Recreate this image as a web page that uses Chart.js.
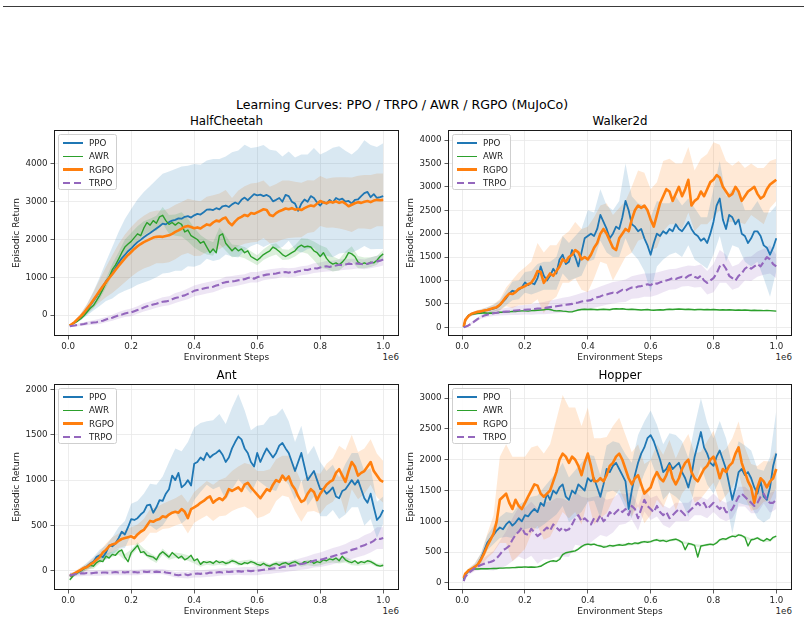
<!DOCTYPE html>
<html><head><meta charset="utf-8">
<script src="https://cdn.jsdelivr.net/npm/chart.js@4.4.1/dist/chart.umd.min.js"></script>
<style>
html,body{margin:0;padding:0;background:#fff}
body{width:804px;height:624px;overflow:hidden;position:relative;font-family:"DejaVu Sans",sans-serif;color:#000}
.rule{position:absolute;left:3px;top:6px;width:801px;height:1px;background:#3a3a3a}
.sup{position:absolute;left:0;width:804px;text-align:center;font-size:12.6px;line-height:16px;top:96.5px;white-space:nowrap}
.ttl{position:absolute;text-align:center;font-size:11.8px;line-height:14px;white-space:nowrap}
.off{position:absolute;text-align:right;font-size:8.7px;line-height:10px;color:#262626}
canvas{position:absolute}
.leg{position:absolute;box-sizing:border-box;border:0.8px solid #cfcfcf;border-radius:2.5px;background:rgba(255,255,255,0.85)}
.row{position:absolute;left:0;height:12px;width:100%}
.hd{position:absolute;left:3.5px;width:20px}
.lt{position:absolute;left:30px;top:0;font-size:8.7px;line-height:12px;color:#222;white-space:nowrap}
</style></head>
<body>
<div class="rule"></div>
<div class="sup">Learning Curves: PPO / TRPO / AWR / RGPO (MuJoCo)</div>
<script>
// ---------------- DATA ----------------
const TITLE = 'Learning Curves: PPO / TRPO / AWR / RGPO (MuJoCo)';
const ENVS = ['HalfCheetah', 'Walker2d', 'Ant', 'Hopper'];
const SERIES = ['PPO', 'AWR', 'RGPO', 'TRPO'];
const X_LABEL = 'Environment Steps';
const Y_LABEL = 'Episodic Return';
const X_OFFSET_LABEL = '1e6';
const X_TICKS = [0, 0.2, 0.4, 0.6, 0.8, 1.0];
const Y_TICKS_HALFCHEETAH = [0, 1000, 2000, 3000, 4000];
const Y_TICKS_WALKER = [0, 500, 1000, 1500, 2000, 2500, 3000, 3500, 4000];
const Y_TICKS_ANT = [0, 500, 1000, 1500, 2000];
const Y_TICKS_HOPPER = [0, 500, 1000, 1500, 2000, 2500, 3000];
// environment steps (x 1e6): first eval at 0.005, then every 0.01
const STEPS = [0.005].concat(Array.from({length: 100}, (_, i) => (i + 1) / 100));

// HalfCheetah means (101 pts) and std (51 pts, every other step)
const HC_PPO = [-270,
 -250,-200,-130,-50,40,140,250,370,490,620,
 760,890,1000,1120,1240,1380,1500,1590,1690,1760,
 1850,1930,1990,2060,2120,2170,2230,2290,2350,2420,
 2400,2460,2500,2520,2560,2550,2600,2620,2580,2640,
 2680,2660,2720,2790,2800,2780,2830,2800,2880,2900,
 2860,2930,2980,2940,3050,3110,3040,3120,3200,3170,
 3190,3150,3180,3130,3010,3050,3100,3000,3180,3150,
 3000,2950,2760,2950,3060,3000,3150,3100,2980,2900,
 3000,2950,3050,2980,3100,3050,3080,3000,3020,2950,
 3050,3060,3150,3230,3260,3120,3200,3100,3120,3150];
const HC_PPO_STD = [20, 40,80,150,250,380, 520,680,820,950,1050, 1130,1200,1250,1290,1320, 1340,1350,1380,1330,1360, 1320,1300,1350,1330,1300, 1380,1420,1400,1300,1280, 1350,1250,1300,1200,1180, 1220,1300,1250,1320,1350, 1380,1450,1420,1350,1300, 1330,1400,1380,1350,1400];
const HC_AWR = [-270,
 -250,-210,-160,-100,-20,80,180,250,380,520,
 680,850,1000,1200,1320,1480,1650,1800,1880,1950,
 2050,2150,2100,2300,2450,2380,2500,2430,2600,2640,
 2500,2400,2450,2380,2450,2400,2200,2250,2100,2050,
 2000,1900,1950,1800,1650,1750,1650,2100,2150,1900,
 1800,1700,1780,1700,1750,1650,1700,1550,1500,1450,
 1520,1600,1650,1700,1800,1750,1680,1600,1550,1600,
 1650,1700,1800,1850,1800,1820,1800,1700,1650,1550,
 1650,1500,1400,1350,1380,1330,1400,1500,1650,1620,
 1550,1400,1350,1380,1350,1400,1380,1450,1550,1620];
const HC_AWR_STD = [20, 30,40,60,80,100, 120,150,180,200,220, 200,180,170,200,220, 250,280,320,300,260, 220,200,180,220,200, 170,150,150,140,130, 140,160,150,140,130, 150,180,200,250,300, 280,200,150,180,200, 160,140,130,120,100];
const HC_RGPO = [-280,
 -250,-190,-110,-30,60,170,280,400,520,640,
 760,870,980,1080,1190,1300,1400,1500,1590,1670,
 1750,1820,1880,1930,1970,2010,2050,2070,2080,2070,
 2090,2110,2150,2200,2240,2290,2340,2360,2330,2300,
 2320,2290,2350,2400,2380,2450,2500,2480,2550,2580,
 2450,2380,2480,2560,2600,2650,2620,2700,2680,2720,
 2760,2800,2780,2650,2620,2700,2750,2780,2820,2800,
 2830,2790,2810,2780,2830,2870,2900,2880,2950,3020,
 2980,2960,3000,2980,3010,2970,3000,2950,2880,2920,
 2960,2990,2970,3000,3020,2990,3030,3050,3040,3050];
const HC_RGPO_STD = [20, 40,70,120,200,300, 400,500,580,630,660, 680,700,720,700,700, 710,720,700,720,740, 720,730,720,740,730, 720,740,760,780,780, 760,750,770,780,760, 740,720,700,680,660, 650,660,680,700,720, 700,710,720,700,700];
const HC_TRPO = [-300,
 -290,-280,-260,-250,-240,-220,-210,-200,-190,-170,
 -150,-120,-90,-70,-40,-10,10,40,60,70,
 100,130,160,200,230,250,280,300,330,350,
 360,380,420,450,470,500,520,560,600,640,
 660,680,700,720,730,750,780,800,850,870,
 880,890,900,920,930,950,980,1000,960,1000,
 1030,1050,1070,1080,1090,1100,1120,1130,1140,1120,
 1150,1130,1160,1170,1200,1190,1220,1240,1230,1260,
 1280,1290,1270,1300,1310,1330,1320,1340,1360,1350,
 1370,1360,1350,1340,1360,1380,1400,1420,1440,1470];
const HC_TRPO_STD = [20, 30,40,50,60,70, 70,80,90,90,100, 100,110,110,110,120, 120,130,130,140,140, 150,150,150,140,140, 140,140,130,140,140, 130,130,130,120,120, 120,120,120,130,130, 140,140,150,140,140, 130,130,140,150,160];

// Walker2d
const WK_PPO = [0,
 150,250,280,300,310,330,350,370,380,400,
 420,470,550,620,720,780,760,800,850,960,
 900,950,920,1050,1300,1100,1000,1100,1250,1150,
 1450,1550,1350,1400,1650,1500,1300,1600,1900,1950,
 2000,1950,2100,2400,2250,2100,1900,2000,2150,2100,
 2350,2700,2500,2200,2150,2050,2100,1900,1750,1550,
 1800,2000,1950,2050,2000,2100,2050,2200,2100,2050,
 2150,2250,2100,2000,1950,1850,1900,1800,2000,2250,
 2600,2750,2300,2100,2400,2350,2200,2300,2000,1950,
 1800,1900,2050,2050,1950,1750,1700,1550,1700,1900];
const WK_PPO_STD = [0, 30,40,50,60,80, 100,150,200,200,220, 250,300,300,300,350, 400,400,450,500,550, 500,550,500,500,600, 800,600,600,700,800, 700,600,550,600,550, 500,550,500,550,700, 800,700,600,600,550, 600,650,700,900,700];
const WK_AWR = [20,
 150,250,280,290,300,300,310,300,305,300,
 310,320,320,325,330,340,335,345,350,350,
 345,355,360,365,370,375,390,380,360,350,
 355,345,340,330,330,350,370,380,385,380,
 385,380,375,380,385,380,375,390,395,390,
 395,385,380,385,380,375,370,375,380,370,
 365,370,375,370,380,385,380,385,390,385,
 380,385,380,375,380,380,375,380,375,380,
 375,370,375,370,375,370,365,370,365,370,
 365,360,365,360,360,355,360,355,350,345];
const WK_AWR_STD = [0, 20,20,20,20,20, 20,20,20,20,20, 20,20,20,20,20, 20,20,20,20,20, 15,15,15,15,15, 15,15,15,15,15, 15,15,15,15,15, 15,15,15,15,15, 15,15,15,15,15, 15,15,15,15,15];
const WK_RGPO = [10,
 160,240,290,310,330,340,360,370,390,410,
 430,480,560,650,720,710,750,820,850,880,
 920,950,1050,1200,1180,950,1050,1150,1100,1200,
 1300,1450,1400,1500,1550,1650,1600,1450,1500,1450,
 1550,1700,1800,2000,2100,2000,1850,1700,1650,1900,
 2000,2100,2050,2300,2500,2600,2550,2600,2500,2300,
 2150,2400,2650,2800,2950,2900,2700,2850,3000,2800,
 2950,3150,2600,2700,2750,2900,2800,2950,3100,3150,
 3250,3200,3000,2900,2800,2850,3000,2900,2700,2800,
 2900,2950,3000,2850,2750,2800,2950,3050,3100,3150];
const WK_RGPO_STD = [0, 30,40,50,60,80, 120,200,300,350,400, 450,600,650,600,550, 500,550,600,650,700, 650,600,650,700,650, 600,700,750,700,650, 700,750,700,650,700, 700,650,700,750,800, 700,650,600,650,600, 550,550,600,500,450];
const WK_TRPO = [0,
 10,40,80,130,180,220,250,270,290,300,
 310,320,330,335,340,350,360,365,370,375,
 380,380,390,400,400,410,420,430,440,450,
 460,470,480,490,500,520,530,550,560,570,
 580,620,640,660,690,700,720,740,720,760,
 800,780,820,850,840,870,880,900,920,900,
 950,930,960,980,1000,1020,1050,1030,1060,1080,
 1050,1100,1120,1080,1050,1100,1000,950,1000,1050,
 1150,1300,1350,1250,1100,1050,1000,1100,1150,1250,
 1300,1250,1300,1350,1300,1400,1500,1450,1350,1300];
const WK_TRPO_STD = [0, 20,30,40,50,60, 70,80,90,100,100, 110,120,130,140,150, 160,160,170,180,200, 200,210,220,230,230, 240,240,250,250,250, 240,230,220,220,210, 220,230,240,250,300, 350,300,250,250,250, 260,270,280,300,250];

// Ant
const AN_PPO = [-50,
 -60,-40,-20,0,30,50,80,100,150,170,
 150,200,280,270,300,360,430,400,480,570,
 560,580,620,650,720,730,640,700,780,770,
 850,900,1050,1000,1080,920,950,1000,940,1180,
 1200,1250,1220,1300,1250,1280,1300,1330,1280,1200,
 1250,1350,1420,1480,1450,1350,1300,1200,1150,1300,
 1200,1280,1350,1300,1250,1300,1380,1410,1350,1300,
 1200,1100,1200,1300,1150,1000,1050,1100,1000,900,
 900,850,880,920,820,800,880,900,950,1000,
 950,1000,900,800,750,850,700,560,600,670];
const AN_PPO_STD = [20, 20,30,40,50,60, 80,100,120,150,170, 190,200,230,250,270, 300,350,400,420,400, 380,350,380,400,420, 450,470,420,350,300, 330,400,420,380,350, 320,300,280,280,300, 250,250,230,280,300, 300,300,280,200,150];
const AN_AWR = [-100,
 -80,-40,-20,0,20,40,60,50,90,110,
 100,160,140,180,170,210,230,150,100,200,
 240,280,200,210,170,160,150,120,180,210,
 180,150,200,170,140,160,120,140,170,110,
 130,70,100,90,100,80,110,90,100,80,
 90,110,100,80,70,90,80,100,90,70,
 60,80,60,50,70,80,60,80,90,70,
 90,100,80,70,100,90,110,80,100,90,
 120,110,130,120,140,110,160,120,100,90,
 110,80,100,90,110,100,80,60,50,60];
const AN_AWR_STD = [20, 20,25,25,30,30, 30,30,35,35,35, 35,35,35,35,35, 30,30,30,30,30, 25,25,25,25,25, 25,25,25,25,25, 25,25,25,25,25, 25,25,30,30,30, 30,30,30,30,30, 25,25,25,20,20];
const AN_RGPO = [-50,
 -50,-30,-10,10,30,40,70,90,120,150,
 200,230,270,290,300,330,350,360,370,380,
 360,400,430,450,500,550,540,560,570,600,
 590,620,640,650,640,680,650,580,680,700,
 720,750,770,800,820,750,780,800,780,820,
 900,880,900,920,880,950,970,920,880,840,
 800,850,900,880,950,1000,980,1050,1000,1040,
 950,900,820,760,780,850,900,870,780,850,
 900,950,980,1000,1080,1120,1050,980,1100,1200,
 1150,1050,1080,1100,1150,1200,1100,1050,1000,980];
const AN_RGPO_STD = [10, 20,30,40,50,60, 70,80,80,90,100, 110,120,130,140,140, 150,150,160,170,170, 180,190,200,200,210, 220,230,240,250,260, 250,240,230,220,230, 240,220,200,210,220, 230,240,260,350,300, 260,250,250,240,230];
const AN_TRPO = [-40,
 -50,-40,-35,-30,-30,-25,-30,-25,-20,-25,
 -20,-20,-25,-20,-15,-20,-15,-20,-15,-20,
 -15,-20,-15,-10,-15,-10,-15,-10,-15,-10,
 -20,-25,-30,-45,-50,-45,-40,-50,-40,-35,
 -30,-35,-25,-30,-20,-25,-20,-15,-20,-10,
 -15,-10,-10,-5,-10,-5,0,-5,0,0,
 5,10,15,20,25,30,30,40,45,50,
 55,60,70,75,80,90,100,110,120,120,
 130,140,150,160,170,180,190,200,210,230,
 240,250,270,280,300,310,330,360,350,360];
const AN_TRPO_STD = [20, 25,30,30,30,30, 30,30,30,30,30, 30,30,30,30,30, 30,30,35,35,40, 40,40,40,40,40, 40,40,45,45,50, 50,55,55,60,60, 60,65,70,75,80, 85,90,90,95,100, 100,110,110,120,120];

// Hopper
const HP_PPO = [50,
 130,190,220,260,300,400,520,650,720,780,
 850,900,870,950,1000,930,980,1050,1000,1100,
 1080,1150,1200,1150,1300,1250,1450,1350,1500,1450,
 1550,1600,1400,1350,1500,1450,1600,1550,1500,1700,
 1650,1700,1550,1400,1600,1850,1800,1900,1950,1850,
 1750,1650,1200,1500,1750,1950,2100,2200,2350,2400,
 2300,2150,2000,1800,1850,1950,1850,1900,1950,1800,
 1700,1550,1750,2050,2250,2450,2200,2100,1950,1900,
 2050,2150,2000,1850,1600,1350,1550,1800,1850,1750,
 1800,1700,1550,1450,1650,1400,1350,1550,1900,2100];
const HP_PPO_STD = [20, 30,50,80,120,150, 170,200,200,220,230, 250,270,300,320,340, 350,360,380,400,380, 360,350,380,400,420, 440,450,450,420,400, 420,450,480,500,500, 480,500,550,500,450, 480,500,550,500,480, 450,400,420,500,700];
const HP_AWR = [60,
 150,210,220,225,225,230,230,230,232,235,
 235,240,240,245,245,248,250,255,255,260,
 255,258,255,260,270,300,330,350,360,350,
 380,460,490,500,510,520,550,590,620,630,
 620,630,610,600,580,590,610,600,610,620,
 610,620,640,630,650,640,660,670,660,670,
 690,700,680,690,670,690,700,710,690,660,
 540,640,630,610,420,600,610,620,630,620,
 650,700,720,710,740,760,750,780,770,740,
 600,700,710,730,700,680,720,690,740,760];
const HP_AWR_STD = [10, 15,15,15,15,15, 15,15,15,15,15, 15,15,15,15,20, 20,20,20,20,20, 20,20,20,20,20, 20,20,20,20,20, 20,20,20,20,20, 20,20,20,20,20, 20,20,20,20,20, 20,20,20,20,20];
const HP_RGPO = [80,
 150,200,230,260,300,380,480,600,700,800,
 1000,1350,1400,1450,1300,1200,1350,1250,1200,1300,
 1400,1500,1600,1580,1450,1400,1450,1500,1650,1800,
 2000,2100,2050,1950,2050,2000,1900,1750,1950,2100,
 1900,1650,1650,1700,1650,1750,1900,1950,2050,2100,
 2000,1850,1700,1600,1700,1750,1600,1450,1500,1550,
 1700,1800,1700,1650,1750,1900,1700,1600,1700,1850,
 1950,2000,1800,1700,1650,1750,1850,1900,2000,2050,
 1900,1700,1850,1800,1900,1950,2100,2200,1950,1800,
 1650,1550,1300,1550,1700,1650,1550,1650,1700,1850];
const HP_RGPO_STD = [20, 40,60,100,200,300, 700,800,850,800,750, 700,650,700,750,850, 950,900,850,800,750, 700,650,620,600,580, 550,520,500,480,450, 450,430,420,420,400, 420,400,380,400,420, 400,380,400,420,400, 380,350,330,320,300];
const HP_TRPO = [30,
 100,160,200,240,270,290,310,330,340,360,
 400,460,530,560,600,700,780,830,900,800,
 780,880,820,760,800,850,900,850,950,900,
 850,900,850,870,950,1050,1100,1000,1050,1000,
 950,1050,1000,1100,1000,1050,1150,1100,1150,1200,
 1150,1200,1100,1250,1200,1050,1200,1350,1250,1200,
 1150,1250,1150,1100,1150,1050,1100,1150,1200,1150,
 1100,1150,1200,1250,1300,1250,1300,1200,1250,1300,
 1250,1200,1250,1150,1150,1200,1300,1400,1450,1400,
 1350,1300,1250,1300,1400,1450,1350,1300,1300,1350];
const HP_TRPO_STD = [10, 30,50,80,120,160, 220,280,350,400,420, 440,450,460,470,480, 470,450,430,400,380, 350,320,300,280,260, 240,220,200,190,180, 170,160,160,150,150, 150,150,150,150,150, 150,150,150,160,160, 170,170,160,160,150];

// ---------------- STYLE / LAYOUT ----------------
const FONT = 'DejaVu Sans';
const COLORS = ['#1f77b4', '#2ca02c', '#ff7f0e', '#9467bd'];
const FILLS = ['rgba(31,119,180,0.17)', 'rgba(44,160,44,0.17)', 'rgba(255,127,14,0.17)', 'rgba(148,103,189,0.17)'];
const WIDTHS = [1.8, 1.4, 2.6, 2.1];
const DASHES = [[], [], [], [7.4, 3.2]];
const DRAW_ORDER = [3, 2, 1, 0];
const PANELS = [
  {env: 0, means: [HC_PPO, HC_AWR, HC_RGPO, HC_TRPO], stds: [HC_PPO_STD, HC_AWR_STD, HC_RGPO_STD, HC_TRPO_STD], yticks: Y_TICKS_HALFCHEETAH, ymin: -556, ymax: 4900, L: 54, T: 130, W: 345, H: 206},
  {env: 1, means: [WK_PPO, WK_AWR, WK_RGPO, WK_TRPO], stds: [WK_PPO_STD, WK_AWR_STD, WK_RGPO_STD, WK_TRPO_STD], yticks: Y_TICKS_WALKER, ymin: -186, ymax: 4214, L: 448, T: 130, W: 344, H: 206},
  {env: 2, means: [AN_PPO, AN_AWR, AN_RGPO, AN_TRPO], stds: [AN_PPO_STD, AN_AWR_STD, AN_RGPO_STD, AN_TRPO_STD], yticks: Y_TICKS_ANT, ymin: -213, ymax: 2061, L: 54, T: 384, W: 345, H: 206},
  {env: 3, means: [HP_PPO, HP_AWR, HP_RGPO, HP_TRPO], stds: [HP_PPO_STD, HP_AWR_STD, HP_RGPO_STD, HP_TRPO_STD], yticks: Y_TICKS_HOPPER, ymin: -115, ymax: 3230, L: 448, T: 384, W: 344, H: 206}
];
const PAD_L = 54, PAD_T = 10, PAD_R = 12, PAD_B = 40;

const framePlugin = {
  id: 'frame',
  afterDatasetsDraw(chart) {
    const a = chart.chartArea, ctx = chart.ctx;
    ctx.save();
    ctx.strokeStyle = '#1a1a1a';
    ctx.lineWidth = 1;
    ctx.strokeRect(Math.round(a.left) + 0.5, Math.round(a.top) + 0.5, Math.round(a.right - a.left) - 1, Math.round(a.bottom - a.top) - 1);
    ctx.restore();
  }
};

function linePts(mean) { return mean.map((v, i) => ({x: STEPS[i], y: v})); }
function bandPts(mean, std, sign) { return std.map((s, k) => ({x: STEPS[2 * k], y: mean[2 * k] + sign * s})); }

function addDiv(cls, text, style) {
  const d = document.createElement('div');
  d.className = cls; d.textContent = text;
  Object.assign(d.style, style);
  document.body.appendChild(d);
  return d;
}

PANELS.forEach(p => {
  // subplot title
  addDiv('ttl', ENVS[p.env], {left: p.L + 'px', width: p.W + 'px', top: (p.T - 16) + 'px'});
  // offset label
  addDiv('off', X_OFFSET_LABEL, {left: (p.L + p.W - 60) + 'px', width: '60px', top: (p.T + p.H + 16) + 'px'});

  const cv = document.createElement('canvas');
  const cw = p.W + PAD_L + PAD_R, ch = p.H + PAD_T + PAD_B;
  cv.width = cw; cv.height = ch;
  cv.style.left = (p.L - PAD_L) + 'px'; cv.style.top = (p.T - PAD_T) + 'px';
  cv.style.width = cw + 'px'; cv.style.height = ch + 'px';
  document.body.appendChild(cv);

  const datasets = [];
  SERIES.forEach((name, s) => {
    datasets.push({label: name + ' lo', data: bandPts(p.means[s], p.stds[s], -1), borderWidth: 0, borderColor: 'rgba(0,0,0,0)', pointRadius: 0, fill: false, order: 20 + s * 2});
    datasets.push({label: name + ' hi', data: bandPts(p.means[s], p.stds[s], 1), borderWidth: 0, borderColor: 'rgba(0,0,0,0)', pointRadius: 0, fill: '-1', backgroundColor: FILLS[s], order: 21 + s * 2});
  });
  SERIES.forEach((name, s) => {
    datasets.push({label: name, data: linePts(p.means[s]), borderColor: COLORS[s], borderWidth: WIDTHS[s], borderDash: DASHES[s], pointRadius: 0, fill: false, order: DRAW_ORDER[s], borderCapStyle: 'butt', borderJoinStyle: 'round'});
  });

  new Chart(cv, {
    type: 'line',
    data: {datasets},
    options: {
      responsive: false, animation: false, events: [], devicePixelRatio: 1,
      layout: {padding: {left: 0, top: PAD_T, right: PAD_R, bottom: 0}},
      plugins: {legend: {display: false}, tooltip: {enabled: false}, title: {display: false}},
      elements: {point: {radius: 0}, line: {tension: 0}},
      scales: {
        x: {
          type: 'linear', min: -0.045, max: 1.05,
          afterBuildTicks: sc => { sc.ticks = X_TICKS.map(v => ({value: v})); },
          afterFit: sc => { sc.height = PAD_B; },
          ticks: {callback: v => Number(v).toFixed(1), font: {family: FONT, size: 8.7}, color: '#262626', padding: 2, maxRotation: 0, autoSkip: false},
          grid: {color: '#e8e8e8', lineWidth: 0.8, tickLength: 3.5, tickColor: '#333', tickWidth: 0.8},
          border: {display: false},
          title: {display: true, text: X_LABEL, font: {family: FONT, size: 9}, color: '#222', padding: {top: 0, bottom: 12.6}}
        },
        y: {
          type: 'linear', min: p.ymin, max: p.ymax,
          afterBuildTicks: sc => { sc.ticks = p.yticks.map(v => ({value: v})); },
          afterFit: sc => { sc.width = PAD_L; },
          ticks: {callback: v => String(v), font: {family: FONT, size: 8.7}, color: '#262626', padding: 3, autoSkip: false},
          grid: {color: '#e8e8e8', lineWidth: 0.8, tickLength: 3.5, tickColor: '#333', tickWidth: 0.8},
          border: {display: false},
          title: {display: true, text: Y_LABEL, font: {family: FONT, size: 9}, color: '#222', padding: {top: 11, bottom: 0}}
        }
      }
    },
    plugins: [framePlugin]
  });

  // legend (upper left, inside axes)
  const lg = document.createElement('div');
  lg.className = 'leg';
  Object.assign(lg.style, {left: (p.L + 4) + 'px', top: (p.T + 4) + 'px', width: '59px', height: '56px'});
  SERIES.forEach((name, s) => {
    const row = document.createElement('div');
    row.className = 'row';
    row.style.top = (2 + s * 13.35) + 'px';
    const hd = document.createElement('div');
    hd.className = 'hd';
    const w = WIDTHS[s];
    hd.style.top = (6 - w / 2) + 'px';
    hd.style.height = w + 'px';
    hd.style.background = DASHES[s].length
      ? 'repeating-linear-gradient(90deg,' + COLORS[s] + ' 0 7.4px, transparent 7.4px 10.6px)'
      : COLORS[s];
    const lt = document.createElement('div');
    lt.className = 'lt';
    lt.textContent = name;
    row.appendChild(hd); row.appendChild(lt);
    lg.appendChild(row);
  });
  document.body.appendChild(lg);
});
</script>
</body></html>
